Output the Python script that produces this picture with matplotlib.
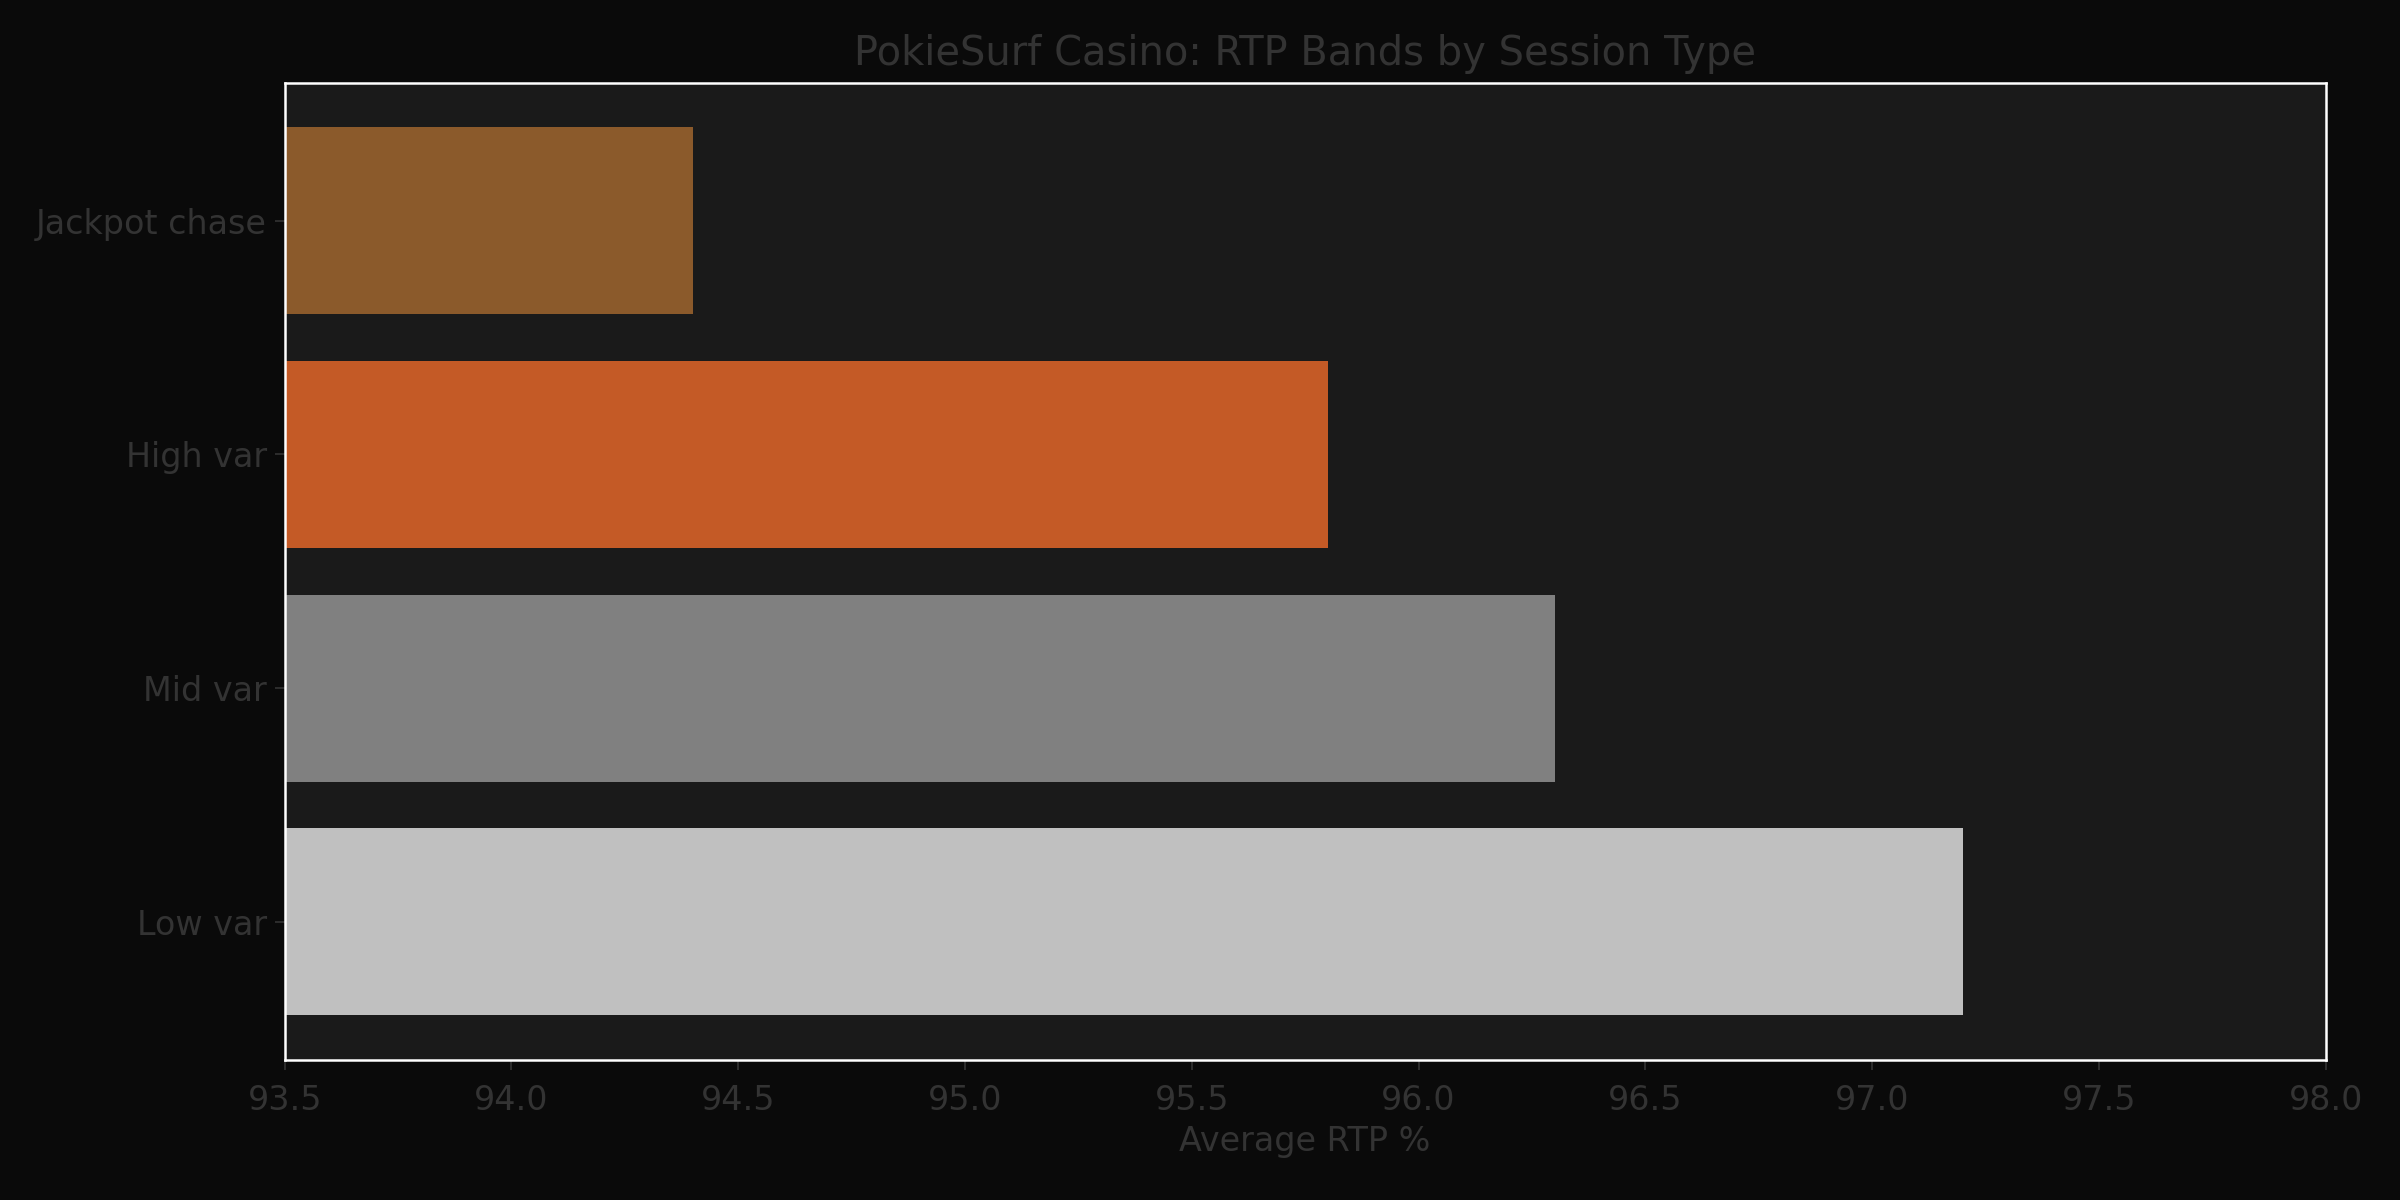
import matplotlib
matplotlib.use("Agg")
import matplotlib.pyplot as plt

# session types, bottom to top
sessions = ['Low var', 'Mid var', 'High var', 'Jackpot chase']
rtp = [97.2, 96.3, 95.8, 94.4]
colors = ['#c0c0c0', '#808080', '#c45a26', '#8b5a2b']

text_color = '#333333'

fig, ax = plt.subplots(figsize=(16, 8), dpi=150)
fig.patch.set_facecolor('#0a0a0a')
ax.set_facecolor('#1a1a1a')

ax.barh(sessions, rtp, color=colors, height=0.8)
ax.set_xlim(93.5, 98.0)

ax.set_title('PokieSurf Casino: RTP Bands by Session Type', color=text_color, fontsize=19.2, pad=8.5)
ax.set_xlabel('Average RTP %', color=text_color, fontsize=16)
ax.tick_params(colors=text_color, labelsize=16, length=5)
ax.tick_params(axis='x', pad=6.5)
for s in ax.spines.values():
    s.set_color('white')
    s.set_linewidth(1.2)

plt.subplots_adjust(left=0.1186, right=0.969, top=0.931, bottom=0.117)
plt.savefig('out.png', facecolor=fig.get_facecolor())
